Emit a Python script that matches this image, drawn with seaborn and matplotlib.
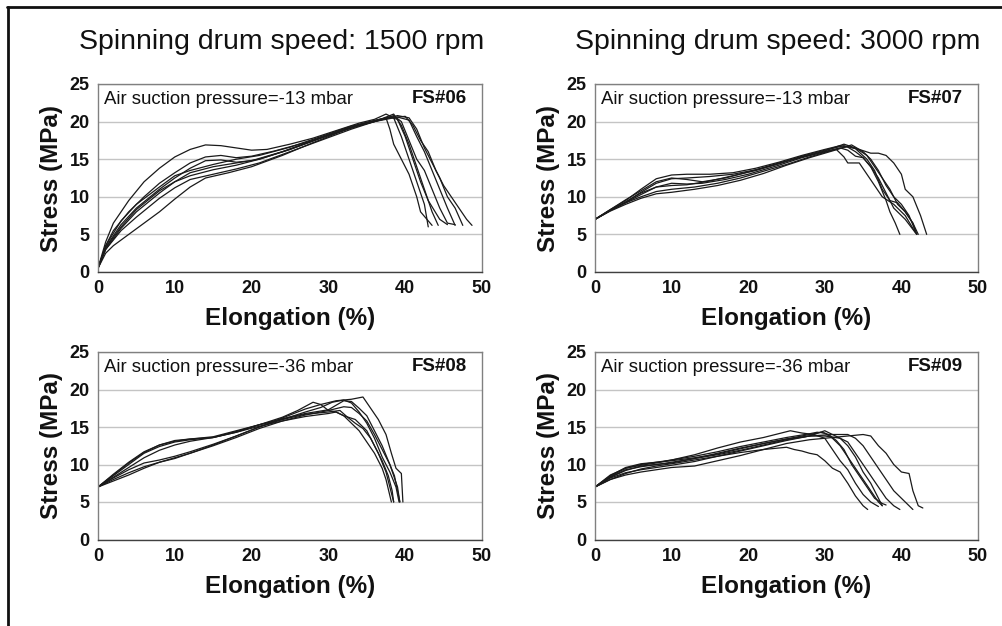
import matplotlib
matplotlib.use("Agg")
import matplotlib.pyplot as plt
from matplotlib.lines import Line2D
import seaborn as sns
import pandas as pd

# ---------------- data (strain %, stress MPa) ----------------
# FS#06 : 1500 rpm, -13 mbar
fs06_a = [(0,0.5),(1,4),(2,6.5),(4,9.5),(6,12),(8,13.8),(10,15.3),(12,16.3),(14,16.9),(16,16.8),(18,16.5),(20,16.2),(22,16.3),(25,17),(28,17.8),(31,18.8),(34,19.8),(36,20.3),(37.5,21),(38.5,20.5),(39.5,18),(40.5,15),(41.5,12),(42.5,9),(43,6)]
fs06_b = [(0,0.5),(1,3.5),(2,5.5),(4,8),(6,10),(8,11.8),(10,13.2),(12,14.5),(14,15.3),(16,15.5),(18,15.2),(20,15.4),(23,16.1),(27,17.2),(31,18.5),(34,19.6),(37,20.4),(38.5,21),(39.5,19.5),(40.5,17),(41.5,14),(42.5,11),(43.5,8),(44.3,6.2)]
fs06_c = [(0,0.5),(1,3.3),(3,6.3),(5,8.5),(8,11),(10,12.5),(12,13.8),(14,14.8),(16,14.9),(18,14.6),(20,14.8),(24,16),(28,17.5),(32,19),(35,19.9),(38,20.6),(39,20.3),(40,18),(41,15),(42,12),(43,9.5),(44.5,7),(45.5,6.3)]
fs06_d = [(0,0.5),(1,3),(3,5.8),(5,8),(8,10.5),(10,12),(12,13.2),(15,14),(18,14.5),(21,15),(25,16.3),(29,17.8),(33,19.2),(36,20),(38.5,20.8),(39.5,20),(40.5,17.5),(41.5,15),(42.5,13.5),(43.5,11),(44.5,8.5),(45.5,6.5),(46.5,6.3)]
fs06_e = [(0,0.5),(1,3),(3,5.5),(5,7.3),(8,9.8),(10,11.2),(12,12.3),(15,13),(18,13.7),(21,14.5),(25,16),(29,17.5),(33,19),(36,20),(39,20.6),(40.5,20.2),(41.5,18),(42.5,16),(43.5,13.5),(44.5,11),(45.5,8.5),(46.5,6.2)]
fs06_f = [(0,0.5),(1,2.5),(2,3.5),(4,5),(6,6.5),(8,8),(10,9.7),(12,11.3),(14,12.5),(17,13.2),(20,14),(24,15.5),(28,17.2),(32,18.8),(35,19.8),(38,20.5),(40,20.7),(41,19.5),(42,17.5),(43,16),(44,13.5),(45,11.5),(46,10),(47,8.5),(48,7),(48.7,6.2)]
fs06_g = [(0,0.5),(1,3.2),(3,6),(5,8.3),(8,10.8),(10,12),(12,12.8),(15,13.6),(18,14.2),(21,15),(25,16.3),(29,17.8),(33,19.2),(36,20),(39,20.8),(40.5,20.5),(41.5,19),(42.5,16.5),(43.5,14.5),(44.5,12.5),(45.5,10),(46.5,8.5),(47.5,6.2)]
fs06_h = [(0,0.5),(1,3.5),(3,6.8),(5,9),(8,11.3),(10,12.8),(12,13.5),(15,14.3),(18,15),(21,15.5),(25,16.6),(29,18),(33,19.4),(36,20.1),(37.5,20.5),(38,19),(38.5,17),(39.5,15),(40.5,13),(41.5,10),(42,8),(43.5,6.2)]

# FS#07 : 3000 rpm, -13 mbar
fs07_a = [(0,7),(2,8.3),(4,9.5),(6,11),(8,12.4),(10,12.9),(12,13),(15,13),(18,13.2),(21,13.8),(24,14.6),(27,15.5),(30,16.3),(32,16.8),(33,16.6),(34,16),(35,15.2),(36,14),(37,12.5),(38,10.5),(39,8.5),(40.5,7),(42,5)]
fs07_b = [(0,7),(2,8.2),(4,9.3),(6,10.6),(8,11.8),(10,12.4),(12,12.5),(15,12.7),(18,13),(21,13.6),(24,14.5),(27,15.3),(30,16.1),(32.5,17),(34,16.5),(35.5,15.5),(36.5,14),(37.5,12.5),(38.5,11),(39.5,9),(40.5,8),(41.5,6.5),(42.2,5)]
fs07_c = [(0,7),(2,8.2),(4,9.2),(6,10.3),(8,11.3),(10,11.8),(12,11.7),(14,11.8),(17,12.3),(20,13),(24,14.2),(27,15.2),(30,16),(32,16.5),(33,16.2),(34,15.4),(35,15.2),(36,14),(37,12),(38,9.5),(38.5,8),(39.2,6.5),(39.8,5)]
fs07_d = [(0,7),(2,8.2),(4,9.2),(6,10),(8,10.7),(10,11),(13,11.3),(16,11.8),(19,12.5),(22,13.4),(25,14.3),(28,15.3),(31,16.2),(33,16.7),(34.5,16.3),(36,15.8),(37,15.8),(38,15.5),(39,14.5),(40,13),(40.5,11),(41.5,10),(42.5,7.5),(43.3,5)]
fs07_e = [(0,7),(2,8.1),(4,9),(6,9.8),(8,10.4),(10,10.6),(13,11),(16,11.5),(19,12.2),(22,13.1),(25,14.2),(28,15.2),(31,16.1),(33.5,16.9),(35,16),(36,15),(37,13.5),(38,11.5),(39,10),(40,9),(41,7.5),(42,5)]
fs07_f = [(0,7),(2,8.2),(4,9.3),(6,10.5),(8,11.3),(10,11.5),(12,11.6),(15,12.1),(18,12.8),(21,13.5),(24,14.4),(27,15.3),(30,16),(31.5,16.3),(32.5,15.3),(33,14.5),(34.5,14.5),(35.5,13),(36.5,11.5),(37.5,10),(39,9),(40.5,7.5),(41.8,5.3)]
fs07_g = [(0,7),(2,8.3),(4,9.6),(6,10.8),(8,12),(10,12.5),(12,12.3),(14,12),(17,12.5),(20,13.3),(24,14.4),(27,15.4),(30,16.2),(32.5,16.8),(34,16.4),(35.5,15),(36.5,13.5),(37.5,11),(38.5,9.5),(39.5,9.2),(40.5,8),(41.5,6.5),(42,5)]

# FS#08 : 1500 rpm, -36 mbar
fs08_a = [(0,7),(2,8.5),(4,10),(6,11.5),(8,12.4),(10,13),(12,13.3),(15,13.6),(18,14.3),(21,15.3),(24,16.3),(26,17.2),(28,18.3),(29,18),(30,17.2),(31,17),(32,16.5),(33,15.5),(34,14.5),(35,13),(36,11.5),(37,9.5),(37.5,8),(38.2,5)]
fs08_b = [(0,7),(2,8.7),(4,10.3),(6,11.7),(8,12.6),(10,13.1),(12,13.4),(15,13.7),(18,14.5),(21,15.3),(24,16.1),(27,16.8),(30,17.3),(32,18.5),(33,18.4),(34,17.5),(35,16.5),(36,14.5),(37,12.5),(38,10),(38.5,8.5),(39,7),(39.3,5)]
fs08_c = [(0,7),(2,8.3),(4,9.6),(6,10.9),(8,11.9),(10,12.6),(12,13.1),(15,13.6),(18,14.4),(21,15.3),(24,16),(27,16.7),(30,17),(31.5,17.2),(32.5,16.3),(33.5,15.5),(34.5,14.8),(35.5,13.5),(36.5,11.5),(37.5,9),(38,7),(38.5,5)]
fs08_d = [(0,7),(2,8),(4,8.9),(6,9.7),(8,10.3),(10,10.8),(12,11.5),(15,12.6),(18,13.8),(21,15),(24,16),(27,17),(29,17.6),(30.5,18.3),(32,18.6),(33,18.2),(34,17),(35,15.5),(36,13.5),(37,11),(38,9),(38.8,7),(39.2,5)]
fs08_e = [(0,7),(2,7.8),(4,8.6),(6,9.5),(8,10.3),(10,10.9),(12,11.5),(15,12.5),(18,13.6),(21,14.8),(24,15.8),(27,16.6),(30,17.2),(32,17.7),(33,17.6),(34,16.8),(35,15.8),(36,14),(37,12),(38,10),(38.6,8.5),(39,6.5),(39.3,5)]
fs08_f = [(0,7),(2,8.2),(4,9.3),(6,10.2),(8,10.6),(10,11.1),(12,11.7),(15,12.7),(18,13.8),(21,15),(24,16.2),(27,17.4),(29,18),(31,18.5),(33,18.7),(34.5,19),(35.5,17.5),(36.5,16),(37.5,14),(38.2,11.5),(38.8,9.5),(39.5,8.8),(39.7,5)]
fs08_g = [(0,7),(2,8.6),(4,10.2),(6,11.6),(8,12.6),(10,13.2),(12,13.4),(15,13.6),(18,14.3),(21,15.1),(24,15.8),(27,16.4),(30,16.8),(31,17),(32,16.5),(33.5,16),(35,14.5),(36,12.5),(37,10.5),(37.8,8.5),(38.3,6.5),(38.5,5)]

# FS#09 : 3000 rpm, -36 mbar
fs09_a = [(0,7),(2,8),(4,8.8),(6,9.4),(8,9.8),(10,10.1),(13,10.6),(16,11.1),(19,11.6),(22,12),(25,12.3),(26,12),(27,11.8),(28,11.5),(29,11.3),(30,10.5),(31,9.5),(32,9),(33,7.5),(34,5.8),(35,4.5),(35.6,4)]
fs09_b = [(0,7),(2,8.6),(4,9.5),(6,9.9),(8,10.2),(10,10.6),(13,11.3),(16,12.2),(19,13),(22,13.6),(25.5,14.5),(27,14.2),(28.5,14),(30,13.5),(31,12),(32,10.5),(33,9.3),(34,7.5),(35,6),(36,5),(37,4.4)]
fs09_c = [(0,7),(2,8.3),(4,9.2),(6,9.8),(8,10),(10,10.3),(13,10.8),(16,11.5),(19,12.2),(22,12.8),(25,13.4),(28,14),(29.5,14.3),(30.5,14),(31.5,13.2),(32.5,12),(33.5,10),(34.5,8.5),(35.5,7),(36.5,5.5),(37.5,4.8),(38,4.6)]
fs09_d = [(0,7),(2,8.2),(4,8.9),(6,9.3),(8,9.6),(10,9.9),(13,10.4),(16,11.1),(19,11.8),(22,12.5),(25,13.2),(28,13.8),(30,14.5),(31,14),(32,13.5),(33,12.5),(34,11),(35,9),(36,7.5),(37,5.5),(37.5,4.5)]
fs09_e = [(0,7),(2,8.5),(4,9.6),(6,10.1),(8,10.3),(10,10.5),(13,10.9),(16,11.4),(19,12.1),(22,12.8),(25,13.4),(28,13.8),(30,13.8),(32,13.5),(33,13),(34,11.5),(35,10),(36,8.5),(37,7),(38,5.5),(39,4.5),(39.8,4)]
fs09_f = [(0,7),(2,8),(4,8.6),(6,9),(8,9.3),(10,9.6),(13,9.8),(16,10.5),(19,11.2),(22,12),(25,12.8),(28,13.3),(31,13.6),(33,13.8),(35,14),(36,13.8),(37,12.5),(38,11.5),(39,10),(40,9),(41,8.8),(41.5,6.5),(42.2,4.5),(42.8,4.2)]
fs09_g = [(0,7),(2,8.3),(4,9.3),(6,9.7),(8,10),(10,10.2),(13,10.8),(16,11.3),(19,11.9),(22,12.6),(25,13.3),(28,13.8),(31,14),(33,14),(34,13.5),(35,12.5),(36,11),(37,9.5),(38,8),(39,6.5),(40,5.5),(41,4.5),(41.5,4)]
fs09_h = [(0,7),(2,8.4),(4,9.5),(6,10),(8,10.3),(10,10.6),(13,11.1),(16,11.7),(19,12.4),(22,13),(25,13.6),(28,14.1),(29,14.3),(30,14.2),(31,13.5),(32,12.5),(33,11),(34,9.5),(35,8),(36,6.5),(37,5),(37.5,4.5)]

column_titles = ["Spinning drum speed: 1500 rpm", "Spinning drum speed: 3000 rpm"]
sample_ids = ["FS#06", "FS#07", "FS#08", "FS#09"]
pressures = ["Air suction pressure=-13 mbar", "Air suction pressure=-13 mbar",
             "Air suction pressure=-36 mbar", "Air suction pressure=-36 mbar"]
panel_curves = [
    [fs06_a, fs06_b, fs06_c, fs06_d, fs06_e, fs06_f, fs06_g, fs06_h],
    [fs07_a, fs07_b, fs07_c, fs07_d, fs07_e, fs07_f, fs07_g],
    [fs08_a, fs08_b, fs08_c, fs08_d, fs08_e, fs08_f, fs08_g],
    [fs09_a, fs09_b, fs09_c, fs09_d, fs09_e, fs09_f, fs09_g, fs09_h],
]
x_ticks = [0, 10, 20, 30, 40, 50]
y_ticks = [0, 5, 10, 15, 20, 25]

# ---------------- style ----------------
sns.set_theme(style="white")
plt.rcParams["font.family"] = ["Liberation Sans", "DejaVu Sans"]

W, H = 1003, 626
fig = plt.figure(figsize=(W / 100, H / 100), dpi=100)
fig.patch.set_facecolor("white")

# axes boxes in pixels (left, top, right, bottom)
boxes = [(98, 84, 482, 272), (595, 84, 978, 272),
         (98, 352, 482, 539.5), (595, 352, 978, 539.5)]

grid_c = "#c4c4c4"
spine_c = "#808080"

for i, (l, t, r, b) in enumerate(boxes):
    ax = fig.add_axes([l / W, 1 - b / H, (r - l) / W, (b - t) / H])
    rows = []
    for k, curve in enumerate(panel_curves[i]):
        for (x, y) in curve:
            rows.append({"curve": k, "strain": x, "stress": y})
    df = pd.DataFrame(rows)
    sns.lineplot(data=df, x="strain", y="stress", units="curve", estimator=None,
                 sort=False, color="#1a1a1a", linewidth=0.9, ax=ax, legend=False)
    ax.set_xlim(0, 50)
    ax.set_ylim(0, 25)
    ax.set_xticks(x_ticks)
    ax.set_yticks(y_ticks)
    ax.set_xticklabels([str(v) for v in x_ticks], fontsize=13, fontweight="bold")
    ax.set_yticklabels([str(v) for v in y_ticks], fontsize=13, fontweight="bold")
    ax.yaxis.grid(True, color=grid_c, linewidth=1.0)
    ax.xaxis.grid(False)
    ax.set_axisbelow(True)
    for s in ax.spines.values():
        s.set_color(spine_c)
        s.set_linewidth(1.0)
    ax.spines["bottom"].set_color("#404040")
    ax.tick_params(axis="both", which="major", direction="out", length=4,
                   width=1, color=spine_c, pad=2, labelcolor="#111111")
    ax.tick_params(axis="x", pad=2)
    ax.set_xlabel("Elongation (%)", fontsize=17.5, fontweight="bold", labelpad=7, color="#111111")
    ax.set_ylabel("Stress (MPa)", fontsize=17.5, fontweight="bold", labelpad=5, color="#111111")
    ax.text(0.016, 0.915, pressures[i], transform=ax.transAxes, fontsize=13.4,
            ha="left", va="center", color="#111111")
    ax.text(0.96, 0.925, sample_ids[i], transform=ax.transAxes, fontsize=13.5,
            fontweight="bold", ha="right", va="center", color="#111111")

fig.text(282 / W, 1 - 42 / H, column_titles[0], fontsize=20.5, ha="center", va="center", color="#111111")
fig.text(778 / W, 1 - 42 / H, column_titles[1], fontsize=20.5, ha="center", va="center", color="#111111")

# frame around the figure (top and left edges visible)
fig.add_artist(Line2D([8.5 / W, 8.5 / W], [0, 1 - 6.5 / H], transform=fig.transFigure,
                      color="#111111", linewidth=2.0))
fig.add_artist(Line2D([7.5 / W, 1], [1 - 6.5 / H, 1 - 6.5 / H], transform=fig.transFigure,
                      color="#111111", linewidth=2.0))

fig.savefig("out.png", dpi=100)
